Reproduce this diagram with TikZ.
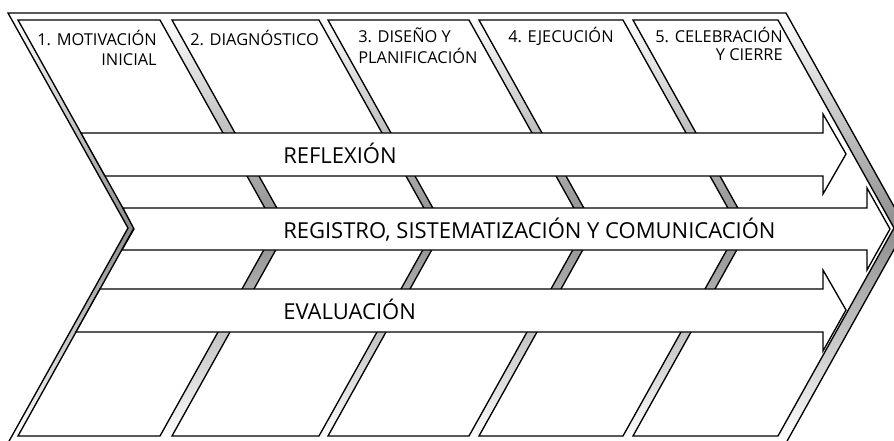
\documentclass[tikz,border=0pt]{standalone}
\usepackage{fontspec}
\setmainfont{Open Sans}
\usepackage{tikz}
\usetikzlibrary{calc,positioning,shapes}
\tikzset{
    marco/.style={
        draw=black, line width=1pt,
        top color=white, bottom color=white, middle color=black!45
    },
    fase/.style={draw=black, line width=1pt, fill=white},
    flecha/.style={draw=black, line width=1pt, fill=white},
    etiqueta/.style={inner sep=0pt, font={\fontsize{12.3pt}{15pt}\selectfont}},
    rotulo/.style={inner sep=0pt, anchor=base west, font={\fontsize{16.5pt}{19pt}\selectfont}},
}

\begin{document}
\begin{tikzpicture}[x=0.75pt, y=-0.75pt, line join=miter]
\clip (0,0) rectangle (894,440);
% marco exterior
\draw[marco] (8,13) -- (786,13) -- (906,228) -- (786,443) -- (8,443) -- (128,228) -- cycle;
% columnas
\draw[fase] (18,20) -- (160,20) -- (276,228) -- (160,436) -- (18,436) -- (134,228) -- cycle;
\draw[fase] (172,20) -- (319,20) -- (435,228) -- (319,436) -- (172,436) -- (288,228) -- cycle;
\draw[fase] (328,20) -- (469,20) -- (585,228) -- (469,436) -- (328,436) -- (444,228) -- cycle;
\draw[fase] (479,20) -- (623,20) -- (739,228) -- (623,436) -- (479,436) -- (595,228) -- cycle;
\draw[fase] (633,20) -- (778,20) -- (894,228) -- (778,436) -- (633,436) -- (749,228) -- cycle;
\node(Mot) at (157,65)[etiqueta, anchor=base east, align=right]{1. MOTIVACIÓN\\INICIAL};
\node(Diag) at (190,45)[etiqueta, anchor=base west]{2. DIAGNÓSTICO};
\node(Dis) at (358,63)[etiqueta, anchor=base west, align=left,
    font={\fontsize{12.3pt}{15.5pt}\selectfont}]{3. DISEÑO Y\\PLANIFICACIÓN};
\node(Eje) at (508,42)[etiqueta, anchor=base west]{4. EJECUCIÓN};
\node(Cel) at (783,60)[etiqueta, anchor=base east, align=right,
    font={\fontsize{12.3pt}{13.5pt}\selectfont}]{5. CELEBRACIÓN\\Y CIERRE};
% flechas
\draw[flecha] (81,133) -- (823,133) -- (823,114) -- (846,154) -- (823,194) -- (823,176) -- (105,176) -- cycle;
\draw[flecha] (123,208) -- (867,208) -- (867,188) -- (890,229) -- (867,270) -- (867,250) -- (122,250) -- (134,229) -- cycle;
\draw[flecha] (100,289) -- (823,289) -- (823,270) -- (846,310) -- (823,351) -- (823,332) -- (76,332) -- cycle;
\node(Ref) at (283,163)[rotulo]{REFLEXIÓN};
\node(Reg) at (283,238)[rotulo]{REGISTRO, SISTEMATIZACIÓN Y COMUNICACIÓN};
\node(Eva) at (283,319)[rotulo]{EVALUACIÓN};
\end{tikzpicture}
\end{document}
